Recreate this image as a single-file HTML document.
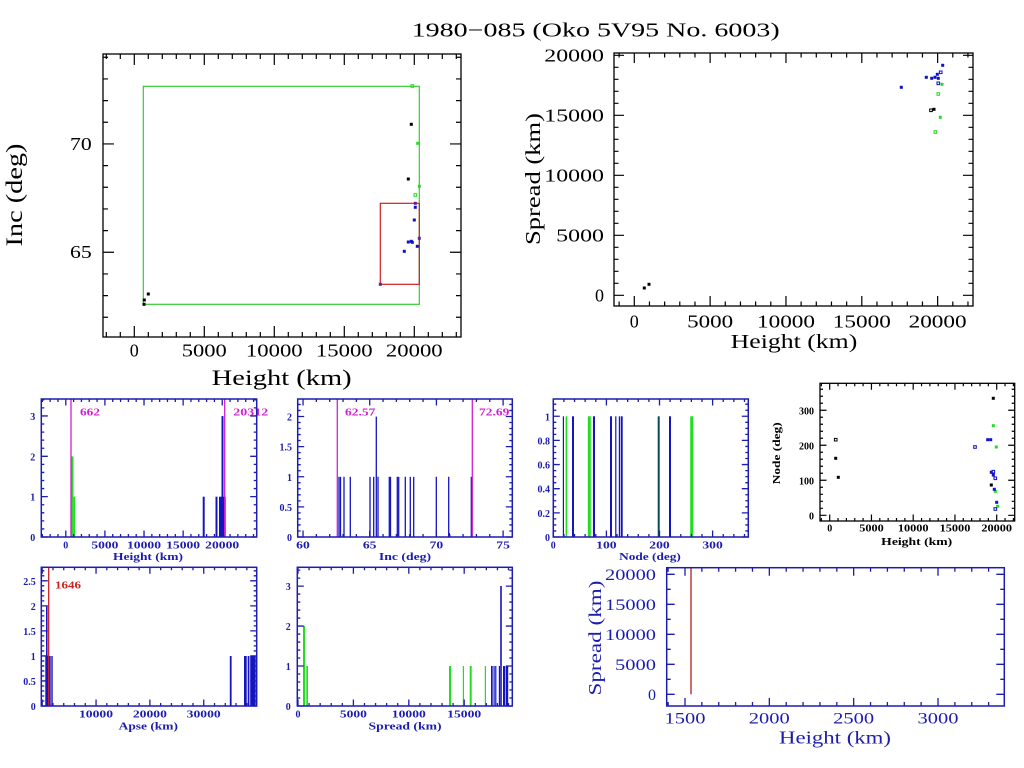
<!DOCTYPE html>
<html><head><meta charset="utf-8"><style>
html,body{margin:0;padding:0;background:#fff;}
svg{display:block;}
.s{font-family:"Liberation Serif",serif;}
.b{font-family:"Liberation Serif",serif;font-weight:bold;font-size:10px;}
</style></head><body>
<svg id="c" xmlns="http://www.w3.org/2000/svg" width="1024" height="768" viewBox="0 0 1024 768">
<rect width="1024" height="768" fill="#fff"/>
<!-- Title -->
<text class="s" x="411.7" y="36.7" font-size="20" textLength="368" lengthAdjust="spacingAndGlyphs">1980−085 (Oko 5V95 No. 6003)</text>

<!-- P1: Inc vs Height -->
<rect x="103" y="54" width="358" height="283" fill="none" stroke="#000" stroke-width="1.3"/>
<rect x="143.3" y="86.3" width="276" height="218" fill="none" stroke="#33cc33" stroke-width="1.2"/>
<rect x="380.3" y="203.3" width="39" height="81" fill="none" stroke="#cc2020" stroke-width="1.2"/>
<g fill="#000">
<rect x="409.8" y="122.8" width="3" height="3"/><rect x="406.8" y="177.5" width="3" height="3"/>
<rect x="142.8" y="298.5" width="3" height="3"/><rect x="146.8" y="292.5" width="3" height="3"/><rect x="142.5" y="302.8" width="3" height="3"/>
</g>
<g fill="#22dd22"><rect x="416.2" y="141.8" width="3" height="3"/><rect x="417.8" y="184.8" width="3" height="3"/></g>
<g fill="none" stroke="#22dd22" stroke-width="1"><rect x="411" y="84.7" width="2.6" height="2.6"/><rect x="414" y="193.7" width="2.6" height="2.6"/></g>
<g fill="#6020a0"><rect x="413.8" y="201.8" width="3" height="3"/><rect x="417.8" y="236.8" width="3" height="3"/><rect x="378.8" y="282.8" width="3" height="3"/></g>
<g fill="#1010c8">
<rect x="413.8" y="205.8" width="3" height="3"/><rect x="412.8" y="218.5" width="3" height="3"/><rect x="406.8" y="240.5" width="3" height="3"/>
<rect x="409.8" y="239.8" width="3" height="3"/><rect x="410.8" y="240.8" width="3" height="3"/><rect x="415.8" y="244.8" width="3" height="3"/><rect x="402.8" y="249.8" width="3" height="3"/>
</g>
<g class="s" font-size="18" text-anchor="middle">
<text x="134.3" y="356.7">0</text>
<text x="204.3" y="356.7" textLength="45" lengthAdjust="spacingAndGlyphs">5000</text>
<text x="274.3" y="356.7" textLength="56.7" lengthAdjust="spacingAndGlyphs">10000</text>
<text x="344.3" y="356.7" textLength="56.7" lengthAdjust="spacingAndGlyphs">15000</text>
<text x="414.3" y="356.7" textLength="56.7" lengthAdjust="spacingAndGlyphs">20000</text>
</g>
<text class="s" font-size="18" x="70" y="150" textLength="21.7" lengthAdjust="spacingAndGlyphs">70</text>
<text class="s" font-size="18" x="70" y="258" textLength="21.7" lengthAdjust="spacingAndGlyphs">65</text>
<text class="s" font-size="22" x="211.7" y="385" textLength="140" lengthAdjust="spacingAndGlyphs">Height (km)</text>
<text class="s" font-size="23" x="22" y="195" text-anchor="middle" transform="rotate(-90 22 195)" textLength="103" lengthAdjust="spacingAndGlyphs">Inc (deg)</text>

<!-- P2: Spread vs Height -->
<rect x="614" y="53" width="359" height="253" fill="none" stroke="#000" stroke-width="1.3"/>
<g fill="#1010c8">
<rect x="941.2" y="63.8" width="3" height="3"/><rect x="935.8" y="72.8" width="3" height="3"/><rect x="924.8" y="75.8" width="3" height="3"/>
<rect x="930.2" y="76.8" width="3" height="3"/><rect x="933.5" y="75.8" width="3" height="3"/><rect x="936.8" y="76.8" width="3" height="3"/><rect x="899.8" y="85.8" width="3" height="3"/>
</g>
<g fill="none" stroke="#1010c8" stroke-width="1"><rect x="939.4" y="71" width="2.6" height="2.6"/><rect x="937" y="82" width="2.6" height="2.6"/></g>
<g fill="#22dd22"><rect x="940.5" y="82.8" width="3" height="3"/><rect x="938.8" y="115.8" width="3" height="3"/></g>
<g fill="none" stroke="#22dd22" stroke-width="1"><rect x="937" y="92.7" width="2.6" height="2.6"/><rect x="934" y="130.7" width="2.6" height="2.6"/></g>
<rect x="929.7" y="109" width="2.6" height="2.6" fill="none" stroke="#000" stroke-width="1"/>
<g fill="#000"><rect x="932.5" y="107.8" width="3" height="3"/><rect x="642.8" y="286.5" width="3" height="3"/><rect x="647.5" y="282.8" width="3" height="3"/></g>
<g class="s" font-size="18" text-anchor="middle">
<text x="634.3" y="327.3">0</text>
<text x="710.1" y="327.3" textLength="46" lengthAdjust="spacingAndGlyphs">5000</text>
<text x="786" y="327.3" textLength="58" lengthAdjust="spacingAndGlyphs">10000</text>
<text x="861.8" y="327.3" textLength="58" lengthAdjust="spacingAndGlyphs">15000</text>
<text x="937.6" y="327.3" textLength="58" lengthAdjust="spacingAndGlyphs">20000</text>
</g>
<g class="s" font-size="18" text-anchor="end">
<text x="604" y="61.3" textLength="59.7" lengthAdjust="spacingAndGlyphs">20000</text>
<text x="604" y="121.3" textLength="59.7" lengthAdjust="spacingAndGlyphs">15000</text>
<text x="604" y="181.3" textLength="59.7" lengthAdjust="spacingAndGlyphs">10000</text>
<text x="604" y="241.3" textLength="47.8" lengthAdjust="spacingAndGlyphs">5000</text>
<text x="604" y="301.3">0</text>
</g>
<text class="s" font-size="20" x="730.7" y="348" textLength="126.6" lengthAdjust="spacingAndGlyphs">Height (km)</text>
<text class="s" font-size="21" x="540" y="179" text-anchor="middle" transform="rotate(-90 540 179)" textLength="132" lengthAdjust="spacingAndGlyphs">Spread (km)</text>

<!-- P3: Height histogram -->
<g fill="#22dd22"><rect x="71.5" y="456.4" width="2" height="80.6"/><rect x="73.6" y="496.7" width="1.5" height="40.3"/></g>
<g fill="#1414c0">
<rect x="202.7" y="496.7" width="2" height="40.3"/><rect x="215.5" y="496.7" width="2" height="40.3"/>
<rect x="219" y="496.7" width="6.7" height="40.3"/><rect x="221.5" y="416.1" width="2" height="120.9"/>
</g>
<g stroke="#d020d0" stroke-width="1.3"><line x1="71" y1="399" x2="71" y2="537"/><line x1="224.7" y1="399" x2="224.7" y2="537"/></g>
<g class="b" fill="#d020d0"><text x="80" y="415.7" textLength="20" lengthAdjust="spacingAndGlyphs">662</text><text x="233.3" y="415.7" textLength="35" lengthAdjust="spacingAndGlyphs">20312</text></g>
<rect x="41.3" y="399" width="215.4" height="138" fill="none" stroke="#1c1cae" stroke-width="1.5"/>
<g class="b" fill="#1c1cae" text-anchor="middle">
<text x="65.8" y="548.7">0</text>
<text x="104.9" y="548.7" textLength="27" lengthAdjust="spacingAndGlyphs">5000</text>
<text x="144" y="548.7" textLength="34" lengthAdjust="spacingAndGlyphs">10000</text>
<text x="183.1" y="548.7" textLength="34" lengthAdjust="spacingAndGlyphs">15000</text>
<text x="222.2" y="548.7" textLength="34" lengthAdjust="spacingAndGlyphs">20000</text>
<text x="32.7" y="541">0</text><text x="32.7" y="500.7">1</text><text x="32.7" y="460.4">2</text><text x="32.7" y="420.1">3</text>
<text x="148" y="560" textLength="70" lengthAdjust="spacingAndGlyphs">Height (km)</text>
</g>

<!-- P4: Inc histogram -->
<g stroke="#1414c0" stroke-width="1.3">
<line x1="339" y1="537" x2="339" y2="476.8"/><line x1="340.5" y1="537" x2="340.5" y2="476.8"/><line x1="344" y1="537" x2="344" y2="476.8"/>
<line x1="350.3" y1="537" x2="350.3" y2="476.8"/><line x1="370" y1="537" x2="370" y2="476.8"/><line x1="373.7" y1="537" x2="373.7" y2="476.8"/>
<line x1="376.3" y1="537" x2="376.3" y2="416.6"/><line x1="378" y1="537" x2="378" y2="476.8"/><line x1="389.3" y1="537" x2="389.3" y2="476.8"/>
<line x1="390.5" y1="537" x2="390.5" y2="476.8"/><line x1="397.3" y1="537" x2="397.3" y2="476.8"/><line x1="398.7" y1="537" x2="398.7" y2="476.8"/>
<line x1="405.3" y1="537" x2="405.3" y2="476.8"/><line x1="410.3" y1="537" x2="410.3" y2="476.8"/><line x1="413.7" y1="537" x2="413.7" y2="476.8"/>
<line x1="436.3" y1="537" x2="436.3" y2="476.8"/><line x1="448.7" y1="537" x2="448.7" y2="476.8"/><line x1="471.3" y1="537" x2="471.3" y2="476.8"/>
<line x1="369.7" y1="537" x2="369.7" y2="532"/><line x1="449.3" y1="537" x2="449.3" y2="533"/>
</g>
<g stroke="#d020d0" stroke-width="1.3"><line x1="337.3" y1="399" x2="337.3" y2="537"/><line x1="472.3" y1="399" x2="472.3" y2="537"/></g>
<g class="b" fill="#d020d0"><text x="345" y="415.7" textLength="30.3" lengthAdjust="spacingAndGlyphs">62.57</text><text x="479" y="415.7" textLength="30.3" lengthAdjust="spacingAndGlyphs">72.69</text></g>
<rect x="297.7" y="399" width="214.6" height="138" fill="none" stroke="#1c1cae" stroke-width="1.5"/>
<g class="b" fill="#1c1cae" text-anchor="middle">
<text x="303" y="548.7" textLength="13.6" lengthAdjust="spacingAndGlyphs">60</text>
<text x="369.7" y="548.7" textLength="13.6" lengthAdjust="spacingAndGlyphs">65</text>
<text x="436.4" y="548.7" textLength="13.6" lengthAdjust="spacingAndGlyphs">70</text>
<text x="503.1" y="548.7" textLength="13.6" lengthAdjust="spacingAndGlyphs">75</text>
<text x="405" y="560" textLength="52.3" lengthAdjust="spacingAndGlyphs">Inc (deg)</text>
</g>
<g class="b" fill="#1c1cae" text-anchor="end">
<text x="292" y="541">0</text><text x="292" y="510.9">0.5</text><text x="292" y="480.8">1</text><text x="292" y="450.7">1.5</text><text x="292" y="420.6">2</text>
</g>

<!-- P5: Node histogram -->
<g fill="#1414c0">
<rect x="562.8" y="416.3" width="1.2" height="120.7"/><rect x="572" y="416.3" width="2" height="120.7"/><rect x="593" y="416.3" width="2" height="120.7"/>
<rect x="610" y="416.3" width="2" height="120.7"/><rect x="615.2" y="416.3" width="1.2" height="120.7"/><rect x="618.8" y="416.3" width="1.2" height="120.7"/>
<rect x="620.7" y="416.3" width="2" height="120.7"/><rect x="669" y="416.3" width="2" height="120.7"/>
</g>
<g fill="#22dd22"><rect x="565.6" y="416.3" width="1.6" height="120.7"/><rect x="587.8" y="416.3" width="3" height="120.7"/><rect x="690.2" y="416.3" width="3" height="120.7"/></g>
<rect x="657.7" y="416.3" width="2" height="120.7" fill="#0a4a5a"/>
<rect x="553.3" y="399" width="195" height="138" fill="none" stroke="#1c1cae" stroke-width="1.5"/>
<g class="b" fill="#1c1cae" text-anchor="middle">
<text x="553.3" y="548.7">0</text>
<text x="606.4" y="548.7" textLength="20.4" lengthAdjust="spacingAndGlyphs">100</text>
<text x="659.5" y="548.7" textLength="20.4" lengthAdjust="spacingAndGlyphs">200</text>
<text x="712.6" y="548.7" textLength="20.4" lengthAdjust="spacingAndGlyphs">300</text>
<text x="650" y="560" textLength="61.7" lengthAdjust="spacingAndGlyphs">Node (deg)</text>
</g>
<g class="b" fill="#1c1cae" text-anchor="end">
<text x="550" y="541">0</text><text x="550" y="516.9">0.2</text><text x="550" y="492.7">0.4</text><text x="550" y="468.6">0.6</text><text x="550" y="444.4">0.8</text><text x="550" y="420.3">1</text>
</g>

<!-- P6: Node vs Height -->
<rect x="820" y="383.3" width="194.7" height="137.7" fill="none" stroke="#000" stroke-width="1.3"/>
<g fill="#000"><rect x="834.2" y="456.8" width="3" height="3"/><rect x="836.8" y="475.8" width="3" height="3"/><rect x="991.8" y="396.8" width="3" height="3"/><rect x="989.8" y="483.5" width="3" height="3"/></g>
<rect x="834.4" y="438.4" width="2.6" height="2.6" fill="none" stroke="#000" stroke-width="1"/>
<g fill="#22dd22"><rect x="991.8" y="424.2" width="3" height="3"/><rect x="994.8" y="445.5" width="3" height="3"/><rect x="993.8" y="489.8" width="3" height="3"/><rect x="996.2" y="504.8" width="3" height="3"/></g>
<g fill="#1010c8"><rect x="986.2" y="438.2" width="3" height="3"/><rect x="989.2" y="438.2" width="3" height="3"/><rect x="989.8" y="470.8" width="3" height="3"/><rect x="991.8" y="473.5" width="3" height="3"/><rect x="992.8" y="487.8" width="3" height="3"/><rect x="995.2" y="500.8" width="3" height="3"/></g>
<g fill="none" stroke="#1010c8" stroke-width="1"><rect x="973.7" y="445.7" width="2.6" height="2.6"/><rect x="992" y="470.4" width="2.6" height="2.6"/><rect x="994" y="477" width="2.6" height="2.6"/><rect x="994" y="507.7" width="2.6" height="2.6"/></g>
<g class="b" fill="#000" text-anchor="middle">
<text x="829.7" y="531.7">0</text>
<text x="871.5" y="531.7" textLength="24.5" lengthAdjust="spacingAndGlyphs">5000</text>
<text x="913.2" y="531.7" textLength="30.7" lengthAdjust="spacingAndGlyphs">10000</text>
<text x="955" y="531.7" textLength="30.7" lengthAdjust="spacingAndGlyphs">15000</text>
<text x="996.7" y="531.7" textLength="30.7" lengthAdjust="spacingAndGlyphs">20000</text>
<text x="916.7" y="545" textLength="71" lengthAdjust="spacingAndGlyphs">Height (km)</text>
<text x="780" y="453.3" transform="rotate(-90 780 453.3)" textLength="62" lengthAdjust="spacingAndGlyphs">Node (deg)</text>
</g>
<g class="b" fill="#000" text-anchor="end">
<text x="814" y="519.3">0</text><text x="814" y="484.3">100</text><text x="814" y="449.3">200</text><text x="814" y="414.3">300</text>
</g>

<!-- P7: Apse histogram -->
<g fill="#1414c0">
<rect x="45.3" y="656" width="5.4" height="50"/><rect x="46" y="606" width="1.6" height="100"/><rect x="51.3" y="656" width="1.4" height="50"/>
<rect x="229.8" y="656" width="1.8" height="50"/><rect x="244" y="656" width="2.7" height="50"/><rect x="247.7" y="656" width="1.7" height="50"/><rect x="250.2" y="656" width="5.5" height="50"/>
</g>
<line x1="48.7" y1="567.3" x2="48.7" y2="706" stroke="#cc2222" stroke-width="1.3"/>
<text class="b" fill="#cc2222" x="55" y="588.3" textLength="26" lengthAdjust="spacingAndGlyphs">1646</text>
<rect x="41.3" y="567.3" width="215.4" height="138.7" fill="none" stroke="#1c1cae" stroke-width="1.5"/>
<g class="b" fill="#1c1cae" text-anchor="middle">
<text x="96" y="717.3" textLength="34" lengthAdjust="spacingAndGlyphs">10000</text>
<text x="149.9" y="717.3" textLength="34" lengthAdjust="spacingAndGlyphs">20000</text>
<text x="203.7" y="717.3" textLength="34" lengthAdjust="spacingAndGlyphs">30000</text>
<text x="148.3" y="729.3" textLength="59.3" lengthAdjust="spacingAndGlyphs">Apse (km)</text>
</g>
<g class="b" fill="#1c1cae" text-anchor="end">
<text x="35.7" y="710">0</text><text x="35.7" y="685">0.5</text><text x="35.7" y="660">1</text><text x="35.7" y="635">1.5</text><text x="35.7" y="610">2</text><text x="35.7" y="585">2.5</text>
</g>

<!-- P8: Spread histogram -->
<g fill="#22dd22">
<rect x="303" y="626" width="2" height="80"/><rect x="306.3" y="666" width="1.7" height="40"/><rect x="449" y="666" width="2" height="40"/>
<rect x="462.8" y="666" width="1.2" height="40"/><rect x="469.7" y="666" width="2" height="40"/><rect x="484.8" y="666" width="1.2" height="40"/>
</g>
<g fill="#1414c0">
<rect x="491" y="666" width="1.7" height="40"/><rect x="493.5" y="666" width="1.2" height="40"/><rect x="495.2" y="666" width="1.2" height="40"/>
<rect x="498.8" y="666" width="1.2" height="40"/><rect x="500.2" y="586" width="1.6" height="120"/><rect x="503" y="666" width="2" height="40"/><rect x="505.6" y="666" width="2.6" height="40"/>
</g>
<rect x="297.3" y="567.3" width="215" height="138.7" fill="none" stroke="#1c1cae" stroke-width="1.5"/>
<g class="b" fill="#1c1cae" text-anchor="middle">
<text x="298" y="717.3">0</text>
<text x="353.4" y="717.3" textLength="27" lengthAdjust="spacingAndGlyphs">5000</text>
<text x="408.8" y="717.3" textLength="34" lengthAdjust="spacingAndGlyphs">10000</text>
<text x="464.2" y="717.3" textLength="34" lengthAdjust="spacingAndGlyphs">15000</text>
<text x="405" y="729.3" textLength="73" lengthAdjust="spacingAndGlyphs">Spread (km)</text>
<text x="288.3" y="710">0</text><text x="288.3" y="670">1</text><text x="288.3" y="630">2</text><text x="288.3" y="590">3</text>
</g>

<!-- P9: Spread vs Height (zoom) -->
<line x1="691" y1="567.7" x2="691" y2="694.3" stroke="#b02020" stroke-width="1.3"/>
<rect x="666.7" y="567.7" width="337.6" height="138.3" fill="none" stroke="#1c1cae" stroke-width="1.5"/>
<g class="s" font-size="16" fill="#1c1cae" text-anchor="middle">
<text x="685" y="723.3" textLength="41" lengthAdjust="spacingAndGlyphs">1500</text>
<text x="769.3" y="723.3" textLength="41" lengthAdjust="spacingAndGlyphs">2000</text>
<text x="853.7" y="723.3" textLength="41" lengthAdjust="spacingAndGlyphs">2500</text>
<text x="938" y="723.3" textLength="41" lengthAdjust="spacingAndGlyphs">3000</text>
</g>
<g class="s" font-size="16" fill="#1c1cae" text-anchor="end">
<text x="656" y="579.8" textLength="51" lengthAdjust="spacingAndGlyphs">20000</text>
<text x="656" y="609.8" textLength="51" lengthAdjust="spacingAndGlyphs">15000</text>
<text x="656" y="639.8" textLength="51" lengthAdjust="spacingAndGlyphs">10000</text>
<text x="656" y="669.8" textLength="41" lengthAdjust="spacingAndGlyphs">5000</text>
<text x="656" y="699.8">0</text>
</g>
<text class="s" font-size="18" fill="#1c1cae" x="835" y="743.3" text-anchor="middle" textLength="112" lengthAdjust="spacingAndGlyphs">Height (km)</text>
<text class="s" font-size="18" fill="#1c1cae" x="601" y="638" text-anchor="middle" transform="rotate(-90 601 638)" textLength="115" lengthAdjust="spacingAndGlyphs">Spread (km)</text>
</svg>
<script>
(function(){
var svg=document.getElementById('c');var NS='http://www.w3.org/2000/svg';
function ax(x0,y0,x1,y1,xa,xb,ya,yb,xmi,xma,ymi,yma,tmi,tma,col,sw){
 var d='';
 function fx(v){return x0+(v-xa)/(xb-xa)*(x1-x0);}
 function fy(v){return y1-(v-ya)/(yb-ya)*(y1-y0);}
 var k,v,t,X,Y,maj;
 for(k=Math.ceil(xa/xmi-1e-9);k*xmi<=xb+1e-9;k++){v=k*xmi;X=fx(v).toFixed(2);maj=Math.abs(v/xma-Math.round(v/xma))<1e-6;t=maj?tma:tmi;d+='M'+X+' '+y1+'v'+(-t)+'M'+X+' '+y0+'v'+t;}
 for(k=Math.ceil(ya/ymi-1e-9);k*ymi<=yb+1e-9;k++){v=k*ymi;Y=fy(v).toFixed(2);maj=Math.abs(v/yma-Math.round(v/yma))<1e-6;t=maj?tma:tmi;d+='M'+x0+' '+Y+'h'+t+'M'+x1+' '+Y+'h'+(-t);}
 var p=document.createElementNS(NS,'path');p.setAttribute('d',d);p.setAttribute('fill','none');p.setAttribute('stroke',col);p.setAttribute('stroke-width',sw);svg.appendChild(p);
}
var B='#1c1cae';
ax(103,54,461,337,-2236,23336,61.09,74.15,1000,5000,1,5,5,11,'#000',1.2);
ax(614,53,973,306,-1338,22332,-892,20192,1000,5000,1000,5000,4.5,10,'#000',1.2);
ax(41.3,399,256.7,537,-3132,24406,0,3.42,1000,5000,0.2,1,3,6.5,B,1.3);
ax(297.7,399,512.3,537,59.6,75.69,0,2.29,1,5,0.1,0.5,3,6.5,B,1.3);
ax(553.3,399,748.3,537,0,367.2,0,1.143,20,100,0.05,0.2,3,6.5,B,1.3);
ax(820,383.3,1014.7,521,-1162,22156,-16.3,377,1000,5000,20,100,3,6.5,'#000',1.2);
ax(41.3,567.3,256.7,706,-167,39833,0,2.77,2000,10000,0.1,0.5,3,6.5,B,1.3);
ax(297.3,567.3,512.3,706,-63,19341,0,3.47,1000,5000,0.2,1,3,6.5,B,1.3);
ax(666.7,567.7,1004.3,706,1391.5,3393,-1950,21100,100,500,2500,5000,4,8,B,1.3);
})();
</script>
</body></html>
